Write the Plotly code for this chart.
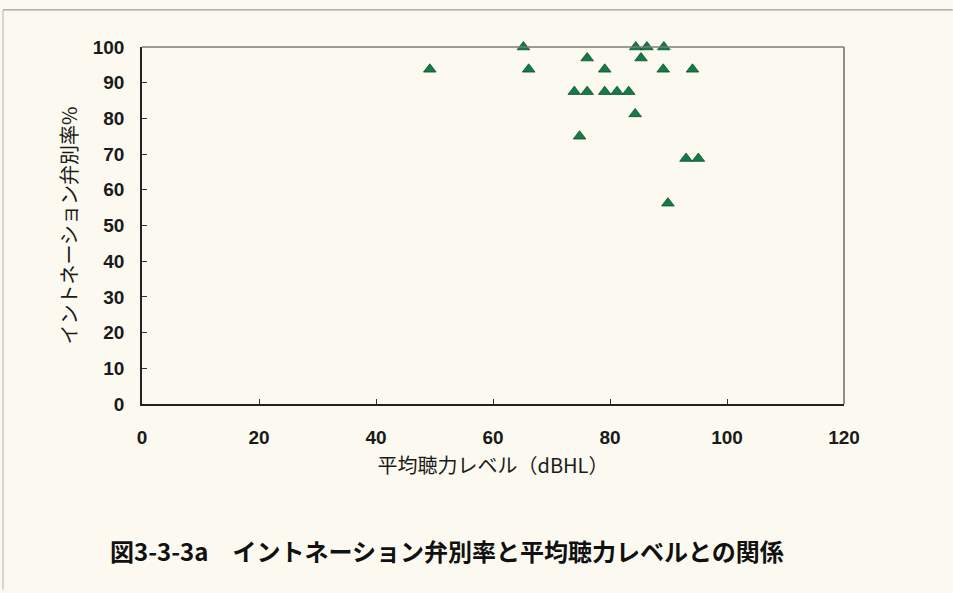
import plotly.graph_objects as go

# Data
hearing_level = [49.2, 65.2, 66.1, 73.9, 76.1, 76.1, 79.1, 79.1, 81.2, 83.2,
                 84.4, 84.3, 86.3, 85.3, 89.2, 89.1, 94.1, 74.8, 93.0, 95.1, 89.9]
discrimination = [93.75, 100, 93.75, 87.5, 96.9, 87.5, 93.75, 87.5, 87.5, 87.5,
                  100, 81.25, 100, 96.9, 100, 93.75, 93.75, 75, 68.75, 68.75, 56.25]

x_ticks = [0, 20, 40, 60, 80, 100, 120]
y_ticks = [0, 10, 20, 30, 40, 50, 60, 70, 80, 90, 100]

x_title = "平均聴力レベル（dBHL）"
y_title = "イントネーション弁別率%"
caption = "図3-3-3a　イントネーション弁別率と平均聴力レベルとの関係"

bg = "#fcfaf0"
jp = "Noto Sans CJK JP"
num_font = "Liberation Sans"

fig = go.Figure()
fig.add_trace(go.Scatter(
    x=hearing_level, y=discrimination, mode="markers",
    marker=dict(symbol="triangle-up", size=11, color="#147a4a",
                line=dict(color="#0b4f2f", width=0.8)),
    showlegend=False, cliponaxis=False,
))

fig.update_layout(
    width=953, height=593,
    margin=dict(l=142, r=109, t=47, b=189),
    paper_bgcolor=bg, plot_bgcolor=bg,
    xaxis=dict(range=[0, 120], tickvals=x_ticks, showgrid=False, zeroline=False,
               showline=True, linecolor="#222", linewidth=1.5, mirror=False,
               ticks="inside", ticklen=5, tickcolor="#333", ticklabelstandoff=15,
               tickfont=dict(family=num_font, size=19, color="#1a1a1a", weight="bold"),
               title=dict(text=x_title, font=dict(family=jp, size=20, color="#1a1a1a"),
                          standoff=12)),
    yaxis=dict(range=[0, 100], tickvals=y_ticks, showgrid=False, zeroline=False,
               showline=True, linecolor="#222", linewidth=1.5,
               ticks="inside", ticklen=5, tickcolor="#333", ticklabelstandoff=12,
               tickfont=dict(family=num_font, size=19, color="#1a1a1a", weight="bold"),
               title=dict(text=y_title, font=dict(family=jp, size=20, color="#1a1a1a"),
                          standoff=10)),
    font=dict(family=jp),
)

# gray top/right frame of the plot area
fig.add_shape(type="line", xref="paper", yref="paper", x0=0, x1=1, y0=1, y1=1,
              line=dict(color="#7a7a7a", width=1.5))
fig.add_shape(type="line", xref="paper", yref="paper", x0=1, x1=1, y0=0, y1=1,
              line=dict(color="#6a6a6a", width=1.5))
# outer figure border (top and left)
fig.add_shape(type="line", xref="paper", yref="paper", x0=-0.198, x1=1.155, y0=1.104, y1=1.104,
              line=dict(color="#9a9a9a", width=1.2))
fig.add_shape(type="line", xref="paper", yref="paper", x0=-0.198, x1=-0.198, y0=1.104, y1=-0.52,
              line=dict(color="#b0b0b0", width=1))

fig.add_annotation(text=caption, xref="paper", yref="paper", x=0.434, y=-0.41,
                   xanchor="center", yanchor="middle", showarrow=False,
                   font=dict(family=jp, size=24, color="#111", weight="bold"))

fig.write_html("out.html")
